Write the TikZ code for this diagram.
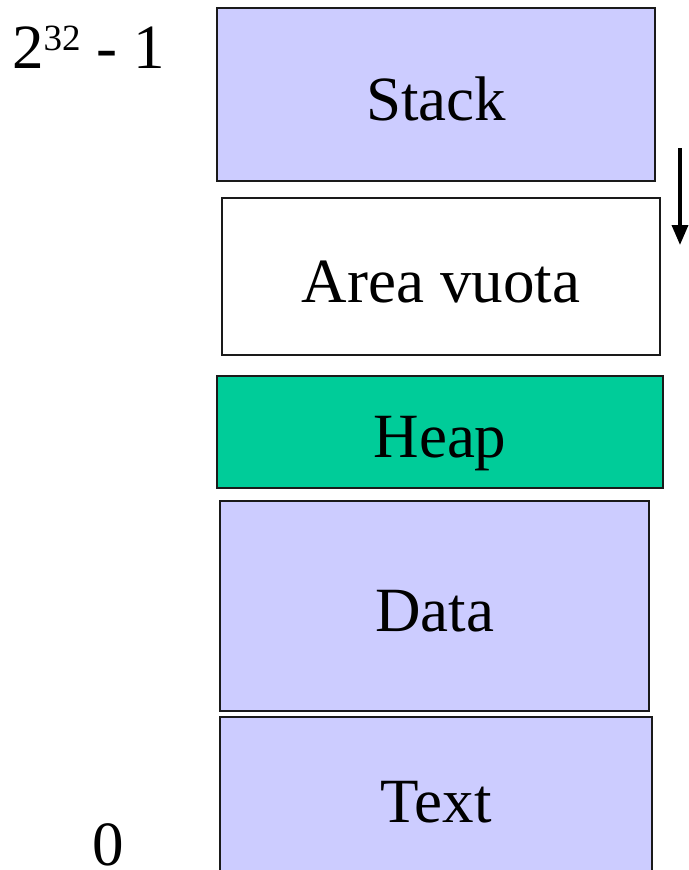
\documentclass[tikz,border=0pt]{standalone}
\usepackage{fontspec}
\setmainfont{Liberation Serif}
\usetikzlibrary{arrows.meta}
\definecolor{seglilac}{HTML}{CCCCFF}
\definecolor{heapgreen}{HTML}{00CC99}
\definecolor{edgegray}{HTML}{1A1A1A}
\begin{document}
\begin{tikzpicture}[x=1pt,y=-1pt,
  segbox/.style={draw=edgegray, line width=1.5pt, rectangle, inner sep=0pt,
    font=\fontsize{63}{70}\selectfont, text height=51pt, text depth=0pt},
  lbl/.style={inner sep=0pt, font=\fontsize{63}{70}\selectfont, anchor=base west}]
\useasboundingbox (0,0) rectangle (688,870);
\node[segbox, fill=seglilac, minimum width=438pt, minimum height=173pt] (stack) at (436,94.5) {Stack};
\node[segbox, fill=white, minimum width=438pt, minimum height=157pt] (empty) at (441,276.5) {Area vuota};
\node[segbox, fill=heapgreen, minimum width=446pt, minimum height=112pt] (heap) at (440,432) {Heap};
\node[segbox, fill=seglilac, minimum width=429pt, minimum height=210pt] (data) at (434.5,606) {Data};
\node[segbox, fill=seglilac, minimum width=432pt, minimum height=160pt] (text) at (436,797) {Text};
\node[lbl] (top) at (12,68) {2\raisebox{18pt}{\fontsize{37}{40}\selectfont 32} - 1};
\node[lbl] (zero) at (92,865) {0};
\coordinate (arrS) at (680,148);
\coordinate (arrE) at (680,245);
\draw[line width=3.6pt, -{Triangle[length=20pt,width=16pt]}] (arrS) -- (arrE);
\end{tikzpicture}
\end{document}
